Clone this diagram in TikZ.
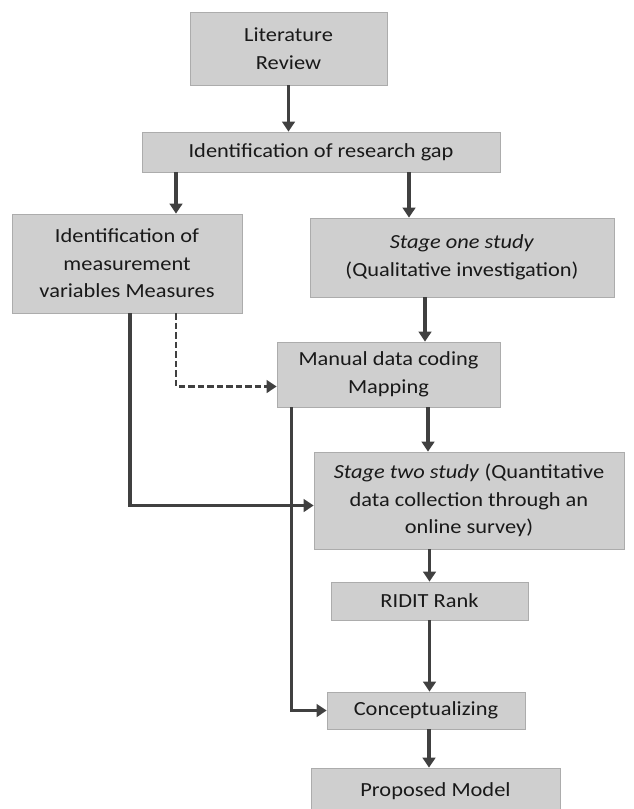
\documentclass[tikz,border=0pt]{standalone}
\usepackage{fontspec}
\setmainfont{Carlito}[FakeStretch=1.12]
\usetikzlibrary{arrows.meta}

\begin{document}
\begin{tikzpicture}[x=1pt,y=-1pt,
    box/.style={draw=gray!65,fill=gray!38,line width=0.6pt,align=center,inner sep=0pt,
      font=\fontsize{20}{27.5}\selectfont,text=black!90},
    arr/.style={draw=black!75,line width=3.2pt,-{Triangle[length=10pt,width=12.5pt]}},
    dasharr/.style={arr,line width=2.8pt,dash pattern=on 6.5pt off 3pt}]

  \useasboundingbox (0,0) rectangle (633,809);

  \node[box,minimum width=197,minimum height=73] (lit) at (288.5,48.5) {Literature\\Review};
  \node[box,minimum width=358,minimum height=40] (gap) at (321,152) {Identification of research gap};
  \node[box,minimum width=230,minimum height=99] (meas) at (127,263.5)
    {Identification of\\measurement\\variables Measures};
  \node[box,minimum width=304,minimum height=79] (stage1) at (462,257.5)
    {\textit{Stage one study}\\(Qualitative investigation)};
  \node[box,minimum width=223,minimum height=65] (coding) at (388.5,374.5)
    {Manual data coding\\Mapping};
  \node[box,minimum width=310,minimum height=97] (stage2) at (469,500.5)
    {\textit{Stage two study} (Quantitative\\data collection through an\\online survey)};
  \node[box,minimum width=197,minimum height=38] (ridit) at (429.5,601) {RIDIT Rank};
  \node[box,minimum width=198,minimum height=37] (concept) at (426,710.5) {Conceptualizing};
  \node[box,minimum width=249,minimum height=46] (model) at (435.5,791) {Proposed Model};

  \draw[arr] (lit.south) -- (lit.south |- gap.north);
  \draw[arr] ([xshift=-145pt]gap.south) -- ([xshift=-145pt]gap.south |- meas.north);
  \draw[arr] ([xshift=88pt]gap.south) -- ([xshift=88pt]gap.south |- stage1.north);
  \draw[arr] ([xshift=-37pt]stage1.south) -- ([xshift=-37pt]stage1.south |- coding.north);
  \draw[arr] ([xshift=39.5pt]coding.south) -- ([xshift=39.5pt]coding.south |- stage2.north);
  \draw[arr] (ridit.north |- stage2.south) -- (ridit.north);
  \draw[arr] (ridit.south) -- (ridit.south |- concept.north);
  \draw[arr] ([xshift=3pt]concept.south) -- ([xshift=3pt]concept.south |- model.north);

  \draw[dasharr] ([xshift=49pt]meas.south) |- ([yshift=-12pt]coding.west);
  \draw[arr] ([xshift=3pt]meas.south) |- ([yshift=-5pt]stage2.west);
  \draw[arr] ([xshift=15pt]coding.south west) |- (concept.west);
\end{tikzpicture}
\end{document}
